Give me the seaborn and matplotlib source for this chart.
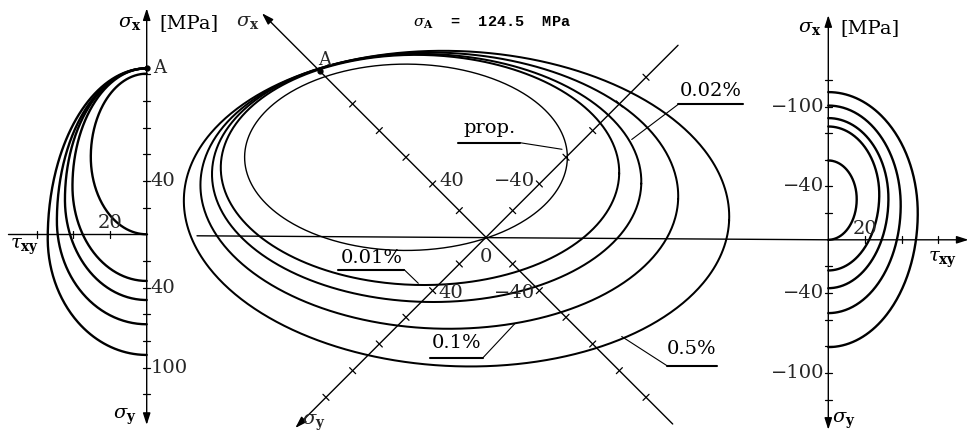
import numpy as np
import matplotlib
matplotlib.use("Agg")
import matplotlib.pyplot as plt
from matplotlib.lines import Line2D
from matplotlib.transforms import Affine2D
import seaborn as sns

# values, MPa
levels = ["prop.", "0.01%", "0.02%", "0.1%", "0.5%"]
sigma_A = 124.5

# middle view: yield ellipses in the (sigma_x, sigma_y) plane
ell_sx0 = [60.0, 50.0, 44.5, 35.0, 21.8]     # centre, sigma_x
ell_sy0 = [0.0, -0.5, 0.0, 0.0, 0.3]         # centre, sigma_y
ell_k = [60.5, 74.7, 80.5, 89.6, 102.3]      # size
ell_tilt = [0.0, -1.0, -1.5, -2.0, -2.5]     # deg

# left view: sigma_x (upper half) and sigma_y (lower half) against tau_xy
left_sx = [120.5, 124.5, 124.5, 124.5, 124.5]
left_sy = [0.0, 35.0, 49.3, 67.5, 90.5]
left_tau = [30.5, 40.5, 44.6, 49.0, 54.0]
left_at = [58.0, 36.0, 26.0, 10.0, -3.0]     # height of widest point

# right view
right_sx = [-59.5, -85.0, -91.3, -100.7, -110.8]
right_sy = [0.0, -23.0, -36.3, -55.0, -80.5]
right_tau = [15.5, 27.8, 32.8, 39.5, 48.8]
right_at = [30.5, 34.0, 31.0, 26.0, 20.0]

side_ticks = [20, 40, 60, 80, 100, 120]
tau_ticks = [20, 40, 60]
diag_ticks = [20, 40, 60, 80, 100, 120]
left_up_lab = {40: "40"}
left_dn_lab = {40: "40", 100: "100"}
right_up_lab = {40: "\u221240", 100: "\u2212100"}
right_dn_lab = {40: "\u221240", 100: "\u2212100"}

sns.set_theme(style="white")
plt.rcParams["font.family"] = ["DejaVu Serif"]
plt.rcParams["mathtext.fontset"] = "dejavuserif"

W, H = 973, 433
fig = plt.figure(figsize=(W / 100, H / 100), dpi=100)
fig.patch.set_facecolor("white")
PX = Affine2D().scale(1 / W, -1 / H).translate(0, 1) + fig.transFigure
FS = 14
K = "black"


def full_axes(x0, y0, sx, sy):
    # axes over the whole figure; origin at pixel (x0, y0), sx/sy pixels per MPa
    ax = fig.add_axes([0, 0, 1, 1])
    ax.set_xlim(-x0 / sx, (W - x0) / sx)
    ax.set_ylim(-(H - y0) / sy, y0 / sy)
    ax.axis("off")
    return ax


def arrow(ax, p0, p1, style="-|>"):
    ax.annotate("", xy=p1, xytext=p0,
                arrowprops=dict(arrowstyle=style + ",head_length=0.5,head_width=0.16",
                                lw=1.0, color=K, shrinkA=0, shrinkB=0,
                                mutation_scale=14))


def px_line(xs, ys, lw=0.8):
    fig.add_artist(Line2D(xs, ys, transform=PX, color=K, lw=lw))


def px_text(x, y, s, size=FS, **kw):
    fig.text(x, y, s, transform=PX, size=size, ha="center", va="center", color=K, **kw)


axC = full_axes(486, 237.3, 1.886, 1.886)
axL = full_axes(146.7, 234.3, 1.833, 1.333)
axR = full_axes(828.3, 239.8, 1.833, 1.333)


def hv(sx, sy):
    return -(sx + sy) / np.sqrt(2), (sx - sy) / np.sqrt(2)


# ---- middle view ----
t = np.linspace(0, 2 * np.pi, 500)
for i, (sx0, sy0, k, tilt) in enumerate(zip(ell_sx0, ell_sy0, ell_k, ell_tilt)):
    a, b = np.sqrt(2) * k, np.sqrt(2 / 3) * k
    ex, ey = a * np.cos(t), b * np.sin(t)
    ph = np.radians(tilt)
    hc, vc = hv(sx0, sy0)
    x = hc + ex * np.cos(ph) - ey * np.sin(ph)
    y = vc + ex * np.sin(ph) + ey * np.cos(ph)
    sns.lineplot(x=x, y=y, sort=False, estimator=None, ax=axC, color=K,
                 linewidth=1.0 if i == 0 else 1.45)

# horizontal line through the origin, runs into the right tau axis
px_line([197, 828.3], [235.8, 239.8], lw=1.0)

# rotated sigma_x / sigma_y axes
arrow(axC, hv(-140, 0), hv(168, 0))
arrow(axC, hv(0, -144), hv(0, 143))
for v in diag_ticks:
    for s in (1, -1):
        if not (s == 1 and v == 120):
            cx, cy = hv(s * v, 0)
            axC.plot([cx - 1.6, cx + 1.6], [cy - 1.6, cy + 1.6], color=K, lw=0.9)
        cx, cy = hv(0, s * v)
        axC.plot([cx - 1.6, cx + 1.6], [cy + 1.6, cy - 1.6], color=K, lw=0.9)

axC.annotate("40", xy=hv(40, 0), xytext=(5, 2), textcoords="offset points",
             ha="left", va="center", size=FS)
axC.annotate("\u221240", xy=hv(0, -40), xytext=(-3, 2), textcoords="offset points",
             ha="right", va="center", size=FS)
axC.annotate("40", xy=hv(0, 40), xytext=(4, -2), textcoords="offset points",
             ha="left", va="center", size=FS)
axC.annotate("\u221240", xy=hv(-40, 0), xytext=(-3, -2), textcoords="offset points",
             ha="right", va="center", size=FS)
axC.annotate("0", xy=(0, 0), xytext=(0, -14), textcoords="offset points",
             ha="center", va="center", size=FS)
axC.plot(*hv(sigma_A, 0), "o", color=K, ms=3.5)
axC.annotate("A", xy=hv(sigma_A, 0), xytext=(3, 8), textcoords="offset points",
             ha="center", va="center", size=13)
axC.annotate(r"$\sigma_\mathbf{x}$", xy=hv(168, 0), xytext=(-10, -6),
             textcoords="offset points", ha="center", va="center", size=FS)
axC.annotate(r"$\sigma_\mathbf{y}$", xy=hv(0, 143), xytext=(13, 4),
             textcoords="offset points", ha="center", va="center", size=FS)

px_text(492, 23, r"$\sigma_\mathbf{A}$  =  124.5  MPa", size=11,
        family=["Liberation Mono", "DejaVu Sans Mono"], weight="bold")

# level labels with underline and leader
lab_pos = {"prop.": (490, 128), "0.01%": (372, 258), "0.02%": (711, 91),
           "0.1%": (457, 343), "0.5%": (692, 349)}
lab_line = {"prop.": ([458, 520, 562], [142.7, 142.7, 149.3]),
            "0.01%": ([338, 404, 418.3], [269.5, 269.5, 283.3]),
            "0.02%": ([743, 678.3, 631.7], [104.3, 104.3, 139.5]),
            "0.1%": ([430, 483, 515], [357.7, 357.7, 323.5]),
            "0.5%": ([717, 667, 621.7], [365.7, 365.7, 336.5])}
for name in levels:
    px_text(*lab_pos[name], name)
    xs, ys = lab_line[name]
    px_line(xs[:2], ys[:2], lw=1.5)
    px_line(xs[1:], ys[1:], lw=0.8)


# ---- side views ----
def side_curve(ax, top, bot, tau, at, sign):
    t1 = np.linspace(0, np.pi / 2, 120)
    t2 = np.linspace(np.pi / 2, np.pi, 120)
    x = sign * tau * np.sin(np.r_[t1, t2])
    y = np.r_[at + (top - at) * np.cos(t1), at + (at - bot) * np.cos(t2)]
    sns.lineplot(x=x, y=y, sort=False, estimator=None, ax=ax, color=K, linewidth=1.7)


def side_axes(ax, sign, up_lab, dn_lab, top_end, bot_end, tau_end):
    arrow(ax, (0, bot_end), (0, top_end), style="<|-|>")
    if sign < 0:
        ax.plot([0, -tau_end], [0, 0], color=K, lw=1.0)
    else:
        arrow(ax, (0, 0), (tau_end, 0))
    for v in side_ticks:
        for s in (1, -1):
            ax.plot([-2, 2], [s * v, s * v], color=K, lw=0.9)
    for v in tau_ticks:
        ax.plot([sign * v, sign * v], [-2.7, 2.7], color=K, lw=0.9)
    ha = "left" if sign < 0 else "right"
    dx = 3 if sign < 0 else -3
    for v, s in up_lab.items():
        ax.annotate(s, xy=(0, v), xytext=(dx, 0), textcoords="offset points",
                    ha=ha, va="center", size=FS)
    for v, s in dn_lab.items():
        ax.annotate(s, xy=(0, -v), xytext=(dx, 0), textcoords="offset points",
                    ha=ha, va="center", size=FS)
    ax.annotate("20", xy=(sign * 20, 0), xytext=(0, 8), textcoords="offset points",
                ha="center", va="center", size=FS)


for top, bot, tau, at in zip(left_sx, left_sy, left_tau, left_at):
    side_curve(axL, top, -bot, tau, at, -1)
side_axes(axL, -1, left_up_lab, left_dn_lab, 169.5, -143, 75.7)
axL.plot(0, sigma_A, "o", color=K, ms=3.5)
axL.annotate("A", xy=(0, sigma_A), xytext=(9, 0), textcoords="offset points",
             ha="center", va="center", size=13)

for top, bot, tau, at in zip(right_sx, right_sy, right_tau, right_at):
    side_curve(axR, -top, bot, tau, at, 1)
side_axes(axR, 1, right_up_lab, right_dn_lab, 168.5, -142.5, 76.5)

# axis names
px_text(130, 22.5, r"$\sigma_\mathbf{x}$")
px_text(188.5, 23, "[MPa]")
px_text(25, 247, r"$\tau_\mathbf{xy}$")
px_text(125, 417, r"$\sigma_\mathbf{y}$")
px_text(810, 28, r"$\sigma_\mathbf{x}$")
px_text(870, 28, "[MPa]")
px_text(943, 260, r"$\tau_\mathbf{xy}$")
px_text(844, 421, r"$\sigma_\mathbf{y}$")

fig.savefig("out.png", dpi=100, facecolor="white")
